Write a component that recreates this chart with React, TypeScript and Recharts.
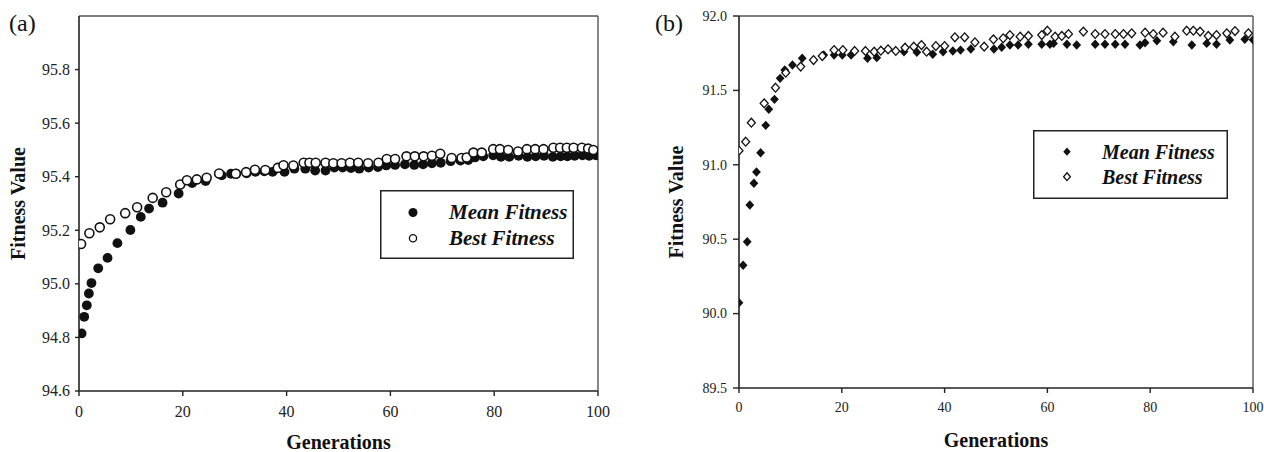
import React from 'react';
import { ScatterChart, Scatter, XAxis, YAxis, ReferenceLine, Legend } from 'recharts';

const SERIF = '"Liberation Serif", "Times New Roman", serif';

// ---------- shared ----------
const genTicks = [0, 20, 40, 60, 80, 100];
const seriesNames = ['Mean Fitness', 'Best Fitness'];
const axisTitleX = 'Generations';
const axisTitleY = 'Fitness Value';

// ---------- panel (a) ----------
const aYTicks = [94.6, 94.8, 95.0, 95.2, 95.4, 95.6, 95.8];
const aYDomain = [94.6, 96.0];
const aMeanGen = [0.5, 1.0, 1.5, 1.9, 2.4, 3.7, 5.5, 7.4, 9.9, 11.9, 13.5, 16.1, 19.2, 21.8, 24.4, 27.5, 29.3, 30.3, 32.3, 34.0, 35.7, 37.3, 39.6, 41.5, 43.6, 45.5, 47.5, 49.2, 50.8, 52.4, 54.0, 55.8, 57.6, 59.2, 60.9, 62.8, 64.6, 66.3, 68.0, 69.7, 71.6, 73.5, 75.0, 76.3, 77.9, 79.8, 81.3, 82.9, 84.7, 86.4, 88.0, 89.6, 91.3, 92.8, 94.1, 95.5, 97.0, 98.3, 99.6];
const aMeanVal = [94.815, 94.877, 94.92, 94.964, 95.003, 95.058, 95.097, 95.152, 95.201, 95.25, 95.281, 95.303, 95.337, 95.376, 95.384, 95.405, 95.411, 95.411, 95.413, 95.418, 95.42, 95.418, 95.418, 95.43, 95.43, 95.423, 95.423, 95.434, 95.434, 95.432, 95.43, 95.434, 95.436, 95.442, 95.444, 95.446, 95.444, 95.446, 95.45, 95.452, 95.458, 95.46, 95.462, 95.472, 95.476, 95.48, 95.474, 95.474, 95.478, 95.474, 95.476, 95.478, 95.474, 95.476, 95.476, 95.478, 95.48, 95.478, 95.48];
const aBestGen = [0.4, 2.0, 4.0, 6.0, 8.9, 11.2, 14.2, 16.8, 19.5, 20.8, 22.7, 24.6, 27.0, 30.2, 32.2, 33.9, 35.9, 38.3, 39.4, 41.3, 43.3, 44.4, 45.6, 47.5, 49.0, 50.6, 52.2, 53.8, 55.7, 57.7, 59.3, 60.9, 63.1, 64.7, 66.4, 68.0, 69.6, 71.8, 73.7, 74.7, 76.0, 77.6, 79.8, 81.1, 82.7, 84.6, 86.3, 87.9, 89.5, 91.4, 92.7, 94.0, 95.3, 96.9, 98.1, 99.1];
const aBestVal = [95.149, 95.189, 95.211, 95.241, 95.264, 95.286, 95.321, 95.342, 95.371, 95.387, 95.39, 95.396, 95.412, 95.411, 95.417, 95.426, 95.425, 95.433, 95.443, 95.442, 95.452, 95.452, 95.452, 95.452, 95.45, 95.45, 95.452, 95.452, 95.45, 95.452, 95.466, 95.466, 95.476, 95.476, 95.476, 95.478, 95.486, 95.47, 95.47, 95.472, 95.49, 95.49, 95.503, 95.503, 95.5, 95.494, 95.503, 95.503, 95.503, 95.508, 95.508, 95.508, 95.508, 95.508, 95.505, 95.5];

// ---------- panel (b) ----------
const bYTicks = [89.5, 90.0, 90.5, 91.0, 91.5, 92.0];
const bYDomain = [89.5, 92.0];
const bMeanGen = [0, 0.8, 1.6, 2.1, 2.9, 3.4, 4.2, 5.2, 5.8, 6.9, 8.0, 8.9, 10.4, 12.3, 16.5, 18.5, 20.1, 21.8, 25.0, 26.8, 32.1, 34.6, 37.7, 39.7, 41.6, 43.1, 45.1, 49.6, 51.1, 52.7, 54.3, 56.3, 58.9, 60.5, 61.2, 63.8, 65.7, 69.3, 71.2, 73.2, 75.1, 78.0, 79.0, 81.3, 84.5, 88.1, 91.0, 92.9, 95.5, 98.4, 100];
const bMeanVal = [90.073, 90.325, 90.483, 90.73, 90.876, 90.952, 91.081, 91.265, 91.373, 91.44, 91.581, 91.637, 91.671, 91.716, 91.738, 91.738, 91.738, 91.738, 91.716, 91.72, 91.76, 91.756, 91.743, 91.76, 91.765, 91.771, 91.778, 91.778, 91.79, 91.805, 91.805, 91.81, 91.81, 91.81, 91.816, 91.81, 91.805, 91.81, 91.81, 91.81, 91.81, 91.805, 91.82, 91.834, 91.827, 91.805, 91.816, 91.81, 91.839, 91.843, 91.84];
const bBestGen = [0, 1.3, 2.4, 4.9, 7.1, 9.1, 12.0, 14.5, 16.2, 18.5, 20.2, 22.5, 24.6, 26.3, 27.6, 29.0, 30.5, 32.3, 34.0, 35.5, 36.5, 38.3, 40.0, 42.0, 43.9, 45.9, 47.7, 49.5, 51.4, 52.7, 54.7, 56.3, 58.9, 60.0, 61.5, 62.8, 64.1, 67.0, 69.3, 71.2, 73.2, 74.8, 76.4, 79.0, 80.6, 82.5, 84.8, 87.1, 88.4, 89.7, 91.3, 92.9, 94.9, 96.5, 99.1];
const bBestVal = [91.095, 91.155, 91.283, 91.413, 91.518, 91.619, 91.66, 91.704, 91.731, 91.771, 91.771, 91.765, 91.765, 91.76, 91.767, 91.776, 91.765, 91.787, 91.794, 91.805, 91.76, 91.798, 91.798, 91.857, 91.857, 91.823, 91.794, 91.843, 91.85, 91.872, 91.861, 91.866, 91.872, 91.901, 91.861, 91.866, 91.879, 91.895, 91.879, 91.879, 91.879, 91.879, 91.884, 91.888, 91.879, 91.888, 91.861, 91.901, 91.901, 91.895, 91.866, 91.872, 91.884, 91.899, 91.884];

const zip = (g: number[], v: number[]) => g.map((x, i) => ({ gen: x, value: v[i] }));

// ---------- marker shapes ----------
const dot = (cx: number, cy: number, r: number) => <circle cx={cx} cy={cy} r={r} fill="#111" />;
const ring = (cx: number, cy: number, r: number, sw: number) => (
  <circle cx={cx} cy={cy} r={r} fill="#fff" stroke="#111" strokeWidth={sw} />
);
const diamondPath = (cx: number, cy: number, w: number, h: number) =>
  `M${cx},${cy - h}L${cx + w},${cy}L${cx},${cy + h}L${cx - w},${cy}Z`;
const fullDiamond = (cx: number, cy: number, w: number, h: number) => <path d={diamondPath(cx, cy, w, h)} fill="#111" />;
const openDiamond = (cx: number, cy: number, w: number, h: number) => (
  <path d={diamondPath(cx, cy, w, h)} fill="#fff" stroke="#111" strokeWidth={1.3} />
);

const shapeMeanA = (p: any) => dot(p.cx, p.cy, 4.9);
const shapeBestA = (p: any) => ring(p.cx, p.cy, 4.5, 1.6);
const shapeMeanB = (p: any) => fullDiamond(p.cx, p.cy, 4.4, 4.7);
const shapeBestB = (p: any) => openDiamond(p.cx, p.cy, 4.0, 4.4);

// ---------- ticks ----------
const makeTick = (fs: number, axis: 'x' | 'y', fmt: (v: number) => string) => (props: any) => {
  const { x, y, payload, textAnchor } = props;
  return (
    <text
      x={x}
      y={y}
      dy={axis === 'x' ? '0.71em' : '0.34em'}
      textAnchor={textAnchor}
      fontFamily={SERIF}
      fontSize={fs}
      fill="#222"
    >
      {fmt(payload.value)}
    </text>
  );
};

type LegendCfg = {
  w: number; h: number; mx: number; my: number[]; tx: number; ty: number[]; fs: number;
  marker: (i: number, x: number, y: number) => React.ReactNode;
};

const makeLegend = (cfg: LegendCfg) => () => (
  <svg width={cfg.w} height={cfg.h} style={{ display: 'block' }}>
    <rect x={0.75} y={0.75} width={cfg.w - 1.5} height={cfg.h - 1.5} fill="#fff" stroke="#222" strokeWidth={1.5} />
    {seriesNames.map((name, i) => (
      <g key={name}>
        {cfg.marker(i, cfg.mx, cfg.my[i])}
        <text x={cfg.tx} y={cfg.ty[i]} fontFamily={SERIF} fontSize={cfg.fs} fontWeight="bold" fontStyle="italic" fill="#111">
          {name}
        </text>
      </g>
    ))}
  </svg>
);

const legendA = makeLegend({
  w: 194, h: 69, mx: 33, my: [22.5, 48.3], tx: 69, ty: [29, 55.3], fs: 21,
  marker: (i, x, y) => (i === 0 ? dot(x, y, 4.5) : ring(x, y, 3.6, 1.3)),
});
const legendB = makeLegend({
  w: 195, h: 69, mx: 34, my: [21.7, 46.7], tx: 69, ty: [28.6, 53.6], fs: 20,
  marker: (i, x, y) => (i === 0 ? fullDiamond(x, y, 3.7, 4.1) : openDiamond(x, y, 3.4, 3.9)),
});

type PanelProps = {
  left: number; width: number; tag: string; tagLeft: number;
  margin: { top: number; right: number; bottom: number; left: number };
  yAxisWidth: number; xAxisHeight: number;
  yDomain: number[]; yTicks: number[];
  tickFont: number; yTickSize: number; yTickMargin: number; xTickMargin: number;
  yLabelOffset: number; xLabelOffset: number;
  mean: any[]; best: any[]; meanShape: any; bestShape: any;
  legend: any; legendPos: { left: number; top: number; width: number; height: number };
};

function Panel(p: PanelProps) {
  const titleStyle = { fontSize: 20, fontWeight: 'bold', fontFamily: SERIF, fill: '#111' };
  return (
    <div style={{ position: 'absolute', left: p.left, top: 0, width: p.width, height: 452 }}>
      <ScatterChart width={p.width} height={452} margin={p.margin}>
        <XAxis
          type="number"
          dataKey="gen"
          domain={[0, 100]}
          ticks={genTicks}
          interval={0}
          allowDataOverflow
          height={p.xAxisHeight}
          tick={makeTick(p.tickFont, 'x', (v) => String(v))}
          tickSize={5}
          tickMargin={p.xTickMargin}
          axisLine={{ stroke: '#222', strokeWidth: 1.6 }}
          tickLine={{ stroke: '#222', strokeWidth: 1.4 }}
          label={{ value: axisTitleX, position: 'insideBottom', offset: p.xLabelOffset, fill: '#111', style: titleStyle }}
        />
        <YAxis
          type="number"
          dataKey="value"
          domain={p.yDomain}
          ticks={p.yTicks}
          interval={0}
          allowDataOverflow
          width={p.yAxisWidth}
          tick={makeTick(p.tickFont, 'y', (v) => v.toFixed(1))}
          tickSize={p.yTickSize}
          tickMargin={p.yTickMargin}
          axisLine={{ stroke: '#222', strokeWidth: 1.6 }}
          tickLine={{ stroke: '#222', strokeWidth: 1.4 }}
          label={{
            value: axisTitleY, angle: -90, position: 'insideLeft', offset: p.yLabelOffset,
            textAnchor: 'middle', fill: '#111', style: { ...titleStyle, textAnchor: 'middle' },
          }}
        />
        <ReferenceLine y={p.yDomain[1]} stroke="#555" strokeWidth={1.4} ifOverflow="extendDomain" />
        <ReferenceLine x={100} stroke="#555" strokeWidth={1.4} ifOverflow="extendDomain" />
        <Scatter name={seriesNames[0]} data={p.mean} shape={p.meanShape} isAnimationActive={false} />
        <Scatter name={seriesNames[1]} data={p.best} shape={p.bestShape} isAnimationActive={false} />
        <Legend
          layout="horizontal"
          verticalAlign="middle"
          align="center"
          content={p.legend}
          wrapperStyle={{ ...p.legendPos, right: 'auto', bottom: 'auto', margin: 0, padding: 0 }}
        />
      </ScatterChart>
      <div
        style={{
          position: 'absolute', left: p.tagLeft, top: 11, fontFamily: SERIF,
          fontSize: 24, lineHeight: '24px', color: '#111', whiteSpace: 'nowrap',
        }}
      >
        {p.tag}
      </div>
    </div>
  );
}

export default function App() {
  return (
    <div style={{ position: 'absolute', left: 0, top: 0, width: 1264, height: 452, background: '#fff', overflow: 'hidden' }}>
      <Panel
        left={0}
        width={620}
        tag="(a)"
        tagLeft={9}
        margin={{ top: 16, right: 22, bottom: 0, left: 0 }}
        yAxisWidth={79}
        xAxisHeight={61}
        yDomain={aYDomain}
        yTicks={aYTicks}
        tickFont={16}
        yTickSize={4}
        yTickMargin={5}
        xTickMargin={10}
        yLabelOffset={18}
        xLabelOffset={3}
        mean={zip(aMeanGen, aMeanVal)}
        best={zip(aBestGen, aBestVal)}
        meanShape={shapeMeanA}
        bestShape={shapeBestA}
        legend={legendA}
        legendPos={{ left: 380, top: 190, width: 194, height: 69 }}
      />
      <Panel
        left={640}
        width={624}
        tag="(b)"
        tagLeft={15}
        margin={{ top: 16, right: 11, bottom: 0, left: 0 }}
        yAxisWidth={99}
        xAxisHeight={64}
        yDomain={bYDomain}
        yTicks={bYTicks}
        tickFont={14}
        yTickSize={6}
        yTickMargin={6}
        xTickMargin={9}
        yLabelOffset={36}
        xLabelOffset={5}
        mean={zip(bMeanGen, bMeanVal)}
        best={zip(bBestGen, bBestVal)}
        meanShape={shapeMeanB}
        bestShape={shapeBestB}
        legend={legendB}
        legendPos={{ left: 393, top: 130, width: 195, height: 69 }}
      />
    </div>
  );
}
